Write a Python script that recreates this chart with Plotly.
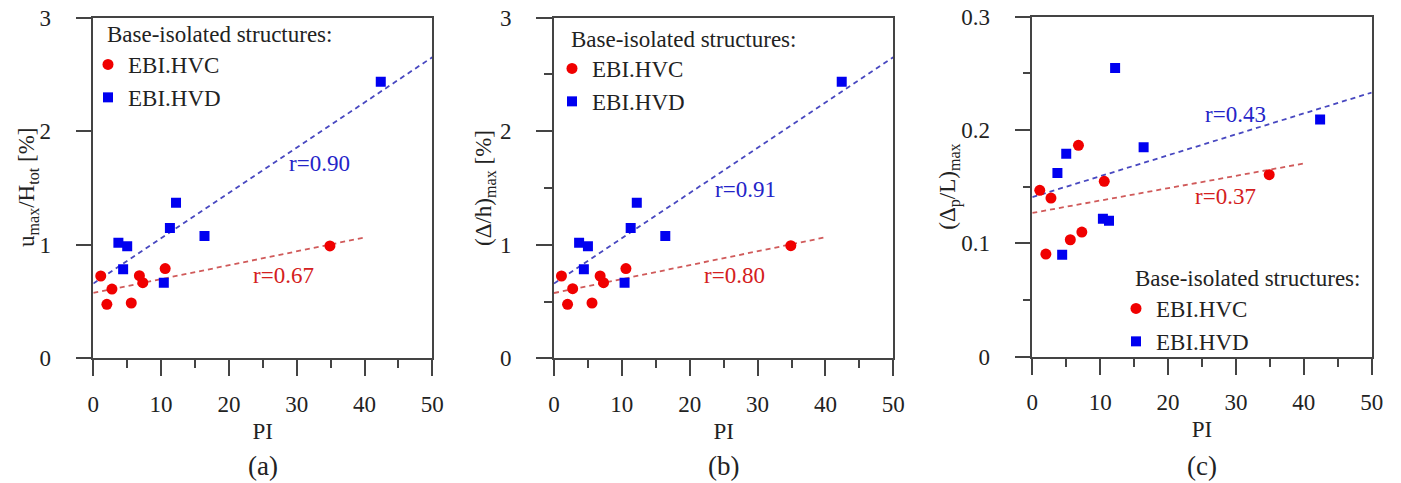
import numpy as np
import plotly.graph_objects as go

W, H = 1401, 483

# PI of the two groups of base-isolated buildings
pi_hvc = [1.1, 2.0, 2.75, 5.6, 6.8, 7.3, 10.6, 34.9]
pi_hvd = [3.7, 4.4, 5.0, 10.4, 11.3, 12.2, 16.4, 42.4]

# (a) u_max / H_tot [%]
umax_hvc = [0.725, 0.475, 0.61, 0.487, 0.728, 0.666, 0.79, 0.99]
umax_hvd = [1.018, 0.784, 0.986, 0.666, 1.148, 1.371, 1.077, 2.436]

# (b) (Δ/h)max [%]
drift_hvc = [0.725, 0.475, 0.613, 0.487, 0.725, 0.666, 0.79, 0.992]
drift_hvd = [1.018, 0.784, 0.986, 0.666, 1.148, 1.371, 1.077, 2.436]

# (c) (Δp/L)max
dpl_hvc = [0.1468, 0.0906, 0.140, 0.1032, 0.1865, 0.110, 0.1547, 0.1606]
dpl_hvd = [0.162, 0.090, 0.179, 0.1218, 0.120, 0.2547, 0.1847, 0.2094]

# correlation coefficients written next to the fits
r_hvc = ["0.67", "0.80", "0.37"]
r_hvd = ["0.90", "0.91", "0.43"]

y_titles = ["u<sub>max</sub>/H<sub>tot</sub> [%]",
            "(Δ/h)<sub>max</sub> [%]",
            "(Δ<sub>p</sub>/L)<sub>max</sub>"]
panel_tags = ["(a)", "(b)", "(c)"]
x_title = "PI"
legend_title = "Base-isolated structures:"
name_hvc, name_hvd = "EBI.HVC", "EBI.HVD"

# ---- styling -------------------------------------------------------------
FONT = "Liberation Serif, Times New Roman, serif"
RED, BLUE = "#f00000", "#0000f0"
RED_FIT, BLUE_FIT = "#d05a5a", "#4848c0"
RED_TXT, BLUE_TXT = "#d42020", "#2424c8"
AXIS = "#444444"
TXT = "#222222"

# plot boxes in pixels: (left, right, top, bottom)
boxes = [(93.3, 432.3, 17.7, 358.3),
         (554.0, 893.3, 17.7, 358.3),
         (1032.3, 1371.7, 16.7, 356.7)]
y_ranges = [[0, 3], [0, 3], [0, 0.3]]
y_dticks = [1, 1, 0.1]
y_minor = [None, 0.5, 0.05]
fit_end = (40, 50)  # extent of the HVC and HVD regression lines

# horizontal centre of each rotated y-axis title (px)
y_title_x = [28, 485, 950]

# where the r labels sit (data units of each panel)
r_pos_hvc = [(28.0, 0.731), (26.6, 0.731), (28.4, 0.141)]
r_pos_hvd = [(33.4, 1.72), (28.2, 1.488), (29.9, 0.2138)]

# legend boxes: (title left px, title centre px, item-block top px)
legend_px = [(105, 35, 43), (569, 40, 47), (1133, 278, 287)]

series = [(umax_hvc, umax_hvd), (drift_hvc, drift_hvd), (dpl_hvc, dpl_hvd)]

fig = go.Figure()
annotations = []

for i, (yc, yd) in enumerate(series):
    k = "" if i == 0 else str(i + 1)
    xa, ya = "x" + k, "y" + k
    leg = "legend" + k

    # least-squares trend lines
    for px_, py_, end, col in ((pi_hvc, yc, fit_end[0], RED_FIT),
                               (pi_hvd, yd, fit_end[1], BLUE_FIT)):
        b1, b0 = np.polyfit(px_, py_, 1)
        xs = np.array([0.0, end])
        fig.add_trace(go.Scatter(x=xs, y=b0 + b1 * xs, mode="lines",
                                 line=dict(color=col, width=1.8, dash="5px,4px"),
                                 showlegend=False, xaxis=xa, yaxis=ya,
                                 hoverinfo="skip"))

    fig.add_trace(go.Scatter(x=pi_hvc, y=yc, mode="markers", name=name_hvc,
                             marker=dict(symbol="circle", size=11, color=RED),
                             xaxis=xa, yaxis=ya, legend=leg))
    fig.add_trace(go.Scatter(x=pi_hvd, y=yd, mode="markers", name=name_hvd,
                             marker=dict(symbol="square", size=10, color=BLUE),
                             xaxis=xa, yaxis=ya, legend=leg))

    l, r, t, b = boxes[i]
    xdom = [l / W, r / W]
    ydom = [1 - b / H, 1 - t / H]

    common = dict(showline=True, linecolor=AXIS, linewidth=1.6, mirror=True,
                  ticks="outside", ticklen=16, tickwidth=1.6, tickcolor=AXIS,
                  showgrid=False, zeroline=False, automargin=False,
                  tickfont=dict(family=FONT, size=23, color=TXT))
    xaxis = dict(common, domain=xdom, range=[0, 50], dtick=10, tick0=0,
                 anchor=ya, ticklabelstandoff=8,
                 minor=dict(dtick=5, ticks="outside", ticklen=8,
                            tickwidth=1.6, tickcolor=AXIS),
                 title=dict(text=x_title, standoff=7,
                            font=dict(family=FONT, size=23, color=TXT)))
    yaxis = dict(common, domain=ydom, range=y_ranges[i], dtick=y_dticks[i],
                 tick0=0, anchor=xa, ticklabelstandoff=20)
    if y_minor[i]:
        yaxis["minor"] = dict(dtick=y_minor[i], ticks="outside", ticklen=8,
                              tickwidth=1.6, tickcolor=AXIS)
    fig.update_layout(**{"xaxis" + k: xaxis, "yaxis" + k: yaxis})

    # rotated y-axis title
    annotations.append(dict(text=y_titles[i], xref="paper", yref="paper",
                            x=y_title_x[i] / W, y=1 - (t + b) / 2 / H,
                            xanchor="center", yanchor="middle",
                            textangle=-90, showarrow=False,
                            font=dict(family=FONT, size=23, color=TXT)))

    tl, tc, top = legend_px[i]
    fig.update_layout(**{leg: dict(
        x=(tl - 17) / W, y=1 - top / H, xanchor="left", yanchor="top",
        bgcolor="rgba(0,0,0,0)", borderwidth=0, tracegroupgap=0,
        font=dict(family=FONT, size=23, color=TXT))})
    annotations.append(dict(text=legend_title, xref="paper", yref="paper",
                            x=tl / W, y=1 - tc / H, xanchor="left",
                            yanchor="middle", showarrow=False,
                            font=dict(family=FONT, size=23, color=TXT)))

    for (rx, ry), txt, col in ((r_pos_hvc[i], r_hvc[i], RED_TXT),
                               (r_pos_hvd[i], r_hvd[i], BLUE_TXT)):
        annotations.append(dict(text="r=" + txt, xref=xa, yref=ya, x=rx, y=ry,
                                showarrow=False,
                                font=dict(family=FONT, size=23, color=col)))

    annotations.append(dict(text=panel_tags[i], xref="paper", yref="paper",
                            x=(l + r) / 2 / W, y=1 - 466 / H,
                            xanchor="center", yanchor="middle",
                            showarrow=False,
                            font=dict(family=FONT, size=27, color=TXT)))

fig.update_layout(width=W, height=H, margin=dict(l=0, r=0, t=0, b=0),
                  paper_bgcolor="white", plot_bgcolor="white",
                  annotations=annotations,
                  font=dict(family=FONT, color=TXT))

fig.write_html("out.html")
